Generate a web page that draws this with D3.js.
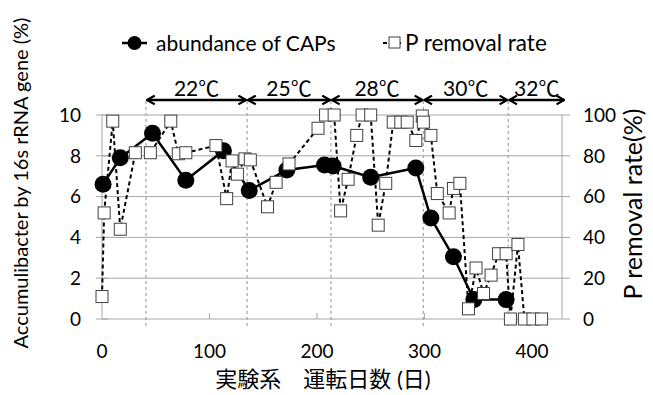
<!DOCTYPE html>
<html>
<head>
<meta charset="utf-8">
<script src="https://cdn.jsdelivr.net/npm/d3@7"></script>
<style>
  body { margin: 0; background: #fff; }
  text { font-family: Lato, "Noto Sans CJK JP", sans-serif; fill: #000; }
  tspan.deg { font-family: "Noto Sans CJK JP", sans-serif; }
</style>
</head>
<body>
<div id="container"></div>
<script>
const width = 653;
const height = 395;

// abundance of CAPs (% by 16s rRNA gene)
const capsDay = [1, 17, 47, 78, 113, 137, 172, 207, 215, 250, 292, 306, 327, 346, 376];
const capsValue = [6.6, 7.9, 9.1, 6.8, 8.25, 6.3, 7.3, 7.55, 7.5, 6.95, 7.4, 4.95, 3.05, 0.95, 0.95];

// P removal rate (%)
const pDay = [0, 2, 10, 17, 31, 45, 64, 71, 78, 106, 116, 121, 126, 133, 138, 154, 162, 174, 201, 208,
  216, 222, 229, 237, 242, 250, 257, 264, 271, 278, 284, 292, 298, 299, 306, 312, 323, 327, 333, 341,
  348, 355, 362, 369, 376, 380, 387, 393, 401, 409];
const pValue = [11, 52, 97, 44, 81.5, 81.5, 97, 81, 81.5, 85, 59, 77.5, 71, 78.5, 78, 55, 67, 76, 93.5, 100,
  100, 53, 68.5, 90, 100, 100, 46, 66.5, 96.5, 96.5, 96.5, 87.5, 99.5, 96.5, 90, 61.5, 52, 64, 66.5, 5,
  25, 12.5, 21.5, 32, 32, 0, 36.5, 0, 0, 0];

// temperature periods (day boundaries)
const tempBounds = [41, 135, 213, 299, 378, 431];
const tempLabels = ["22", "25", "28", "30", "32"];

const xTicks = [0, 100, 200, 300, 400];
const yTicks = [0, 2, 4, 6, 8, 10];
const rTicks = [0, 20, 40, 60, 80, 100];

const x = d3.scaleLinear().domain([0, 428]).range([102, 562]);
const y = d3.scaleLinear().domain([0, 10]).range([319, 115]);
const yR = d3.scaleLinear().domain([0, 100]).range([319, 115]);

const svg = d3.select("#container").append("svg")
    .attr("width", width)
    .attr("height", height);

const defs = svg.append("defs");
defs.append("marker")
    .attr("id", "arr")
    .attr("viewBox", "0 0 10 10")
    .attr("refX", 9).attr("refY", 5)
    .attr("markerWidth", 11).attr("markerHeight", 11)
    .attr("markerUnits", "userSpaceOnUse")
    .attr("orient", "auto-start-reverse")
  .append("path")
    .attr("d", "M2,1 L9,5 L2,9")
    .attr("fill", "none")
    .attr("stroke", "#000")
    .attr("stroke-width", 2);

// gridlines
svg.append("g")
    .selectAll("line")
    .data(yTicks)
    .join("line")
    .attr("x1", x.range()[0]).attr("x2", x.range()[1])
    .attr("y1", d => y(d)).attr("y2", d => y(d))
    .attr("stroke", "#a6a6a6")
    .attr("stroke-width", 1);

// left axis
const left = svg.append("g").attr("stroke", "#a6a6a6");
left.append("line")
    .attr("x1", 102).attr("x2", 102)
    .attr("y1", y(10)).attr("y2", y(0));
left.selectAll(".tk")
    .data(yTicks)
    .join("line")
    .attr("x1", 96).attr("x2", 108)
    .attr("y1", d => y(d)).attr("y2", d => y(d));

svg.append("g")
    .selectAll("text")
    .data(yTicks)
    .join("text")
    .attr("x", 81)
    .attr("y", d => y(d))
    .attr("dy", "0.36em")
    .attr("text-anchor", "end")
    .attr("font-size", 19)
    .text(d => d);

// right axis
const right = svg.append("g").attr("stroke", "#a6a6a6");
right.append("line")
    .attr("x1", 562).attr("x2", 562)
    .attr("y1", yR(100)).attr("y2", yR(0));
right.selectAll(".tk")
    .data(rTicks)
    .join("line")
    .attr("x1", 562).attr("x2", 570)
    .attr("y1", d => yR(d)).attr("y2", d => yR(d));

svg.append("g")
    .selectAll("text")
    .data(rTicks)
    .join("text")
    .attr("x", 583)
    .attr("y", d => yR(d))
    .attr("dy", "0.36em")
    .attr("font-size", 19)
    .text(d => d);

// x axis ticks and labels
svg.append("g")
    .selectAll("line")
    .data(xTicks.slice(1))
    .join("line")
    .attr("x1", d => x(d)).attr("x2", d => x(d))
    .attr("y1", y(0)).attr("y2", y(0) - 6)
    .attr("stroke", "#a6a6a6");

svg.append("g")
    .selectAll("text")
    .data(xTicks)
    .join("text")
    .attr("x", d => x(d))
    .attr("y", 358)
    .attr("text-anchor", "middle")
    .attr("font-size", 19)
    .text(d => d);

// temperature period dividers
svg.append("g")
    .selectAll("line")
    .data(tempBounds.slice(0, -1))
    .join("line")
    .attr("x1", d => x(d)).attr("x2", d => x(d))
    .attr("y1", 101).attr("y2", 328)
    .attr("stroke", "#aaa")
    .attr("stroke-width", 1.3)
    .attr("stroke-dasharray", "3,3");

const periods = tempLabels.map((t, i) => ({ label: t, a: tempBounds[i], b: tempBounds[i + 1] }));

svg.append("g")
    .selectAll("line")
    .data(periods)
    .join("line")
    .attr("x1", d => x(d.a) + 1).attr("x2", d => x(d.b) - 1)
    .attr("y1", 100).attr("y2", 100)
    .attr("stroke", "#000")
    .attr("stroke-width", 2.5)
    .attr("marker-start", "url(#arr)")
    .attr("marker-end", "url(#arr)");

const tl = svg.append("g")
    .selectAll("text")
    .data(periods)
    .join("text")
    .attr("x", d => (x(d.a) + x(d.b)) / 2)
    .attr("y", 96)
    .attr("text-anchor", "middle")
    .attr("font-size", 21)
    .text(d => d.label);
tl.append("tspan")
    .attr("class", "deg")
    .attr("font-size", 21)
    .text("℃");

// CAPs series
const caps = capsDay.map((d, i) => [d, capsValue[i]]);
svg.append("path")
    .datum(caps)
    .attr("d", d3.line().x(d => x(d[0])).y(d => y(d[1])))
    .attr("fill", "none")
    .attr("stroke", "#000")
    .attr("stroke-width", 2.5);

svg.append("g")
    .selectAll("circle")
    .data(caps)
    .join("circle")
    .attr("cx", d => x(d[0]))
    .attr("cy", d => y(d[1]))
    .attr("r", 8.5)
    .attr("fill", "#000");

// P removal series
const pr = pDay.map((d, i) => [d, pValue[i]]);
svg.append("path")
    .datum(pr)
    .attr("d", d3.line().x(d => x(d[0])).y(d => yR(d[1])))
    .attr("fill", "none")
    .attr("stroke", "#000")
    .attr("stroke-width", 2)
    .attr("stroke-dasharray", "4,3");

svg.append("g")
    .selectAll("rect")
    .data(pr)
    .join("rect")
    .attr("x", d => x(d[0]) - 6)
    .attr("y", d => yR(d[1]) - 6)
    .attr("width", 12)
    .attr("height", 12)
    .attr("fill", "#fff")
    .attr("stroke", "#404040")
    .attr("stroke-width", 1);

// legend
const lg = svg.append("g");
lg.append("line")
    .attr("x1", 122).attr("x2", 147)
    .attr("y1", 43).attr("y2", 43)
    .attr("stroke", "#000").attr("stroke-width", 2.5);
lg.append("circle")
    .attr("cx", 134.5).attr("cy", 43).attr("r", 7)
    .attr("fill", "#000");
lg.append("text")
    .attr("x", 156).attr("y", 51)
    .attr("font-size", 21)
    .text("abundance of CAPs");

lg.append("line")
    .attr("x1", 383).attr("x2", 404)
    .attr("y1", 43).attr("y2", 43)
    .attr("stroke", "#000").attr("stroke-width", 2)
    .attr("stroke-dasharray", "4,3");
lg.append("rect")
    .attr("x", 389).attr("y", 37)
    .attr("width", 11).attr("height", 11)
    .attr("fill", "#fff").attr("stroke", "#404040");
lg.append("text")
    .attr("x", 405).attr("y", 51)
    .attr("font-size", 22.5)
    .text("P removal rate");

// axis titles
svg.append("text")
    .attr("transform", "translate(28,183) rotate(-90)")
    .attr("text-anchor", "middle")
    .attr("font-size", 20)
    .text("Accumulibacter by 16s rRNA gene (%)");

svg.append("text")
    .attr("transform", "translate(642,204) rotate(-90)")
    .attr("text-anchor", "middle")
    .attr("font-size", 25)
    .text("P removal rate(%)");

svg.append("text")
    .attr("x", 323)
    .attr("y", 387)
    .attr("text-anchor", "middle")
    .attr("font-size", 22)
    .attr("font-family", "'Noto Sans CJK JP', sans-serif")
    .text("実験系　運転日数 (日)");
</script>
</body>
</html>
